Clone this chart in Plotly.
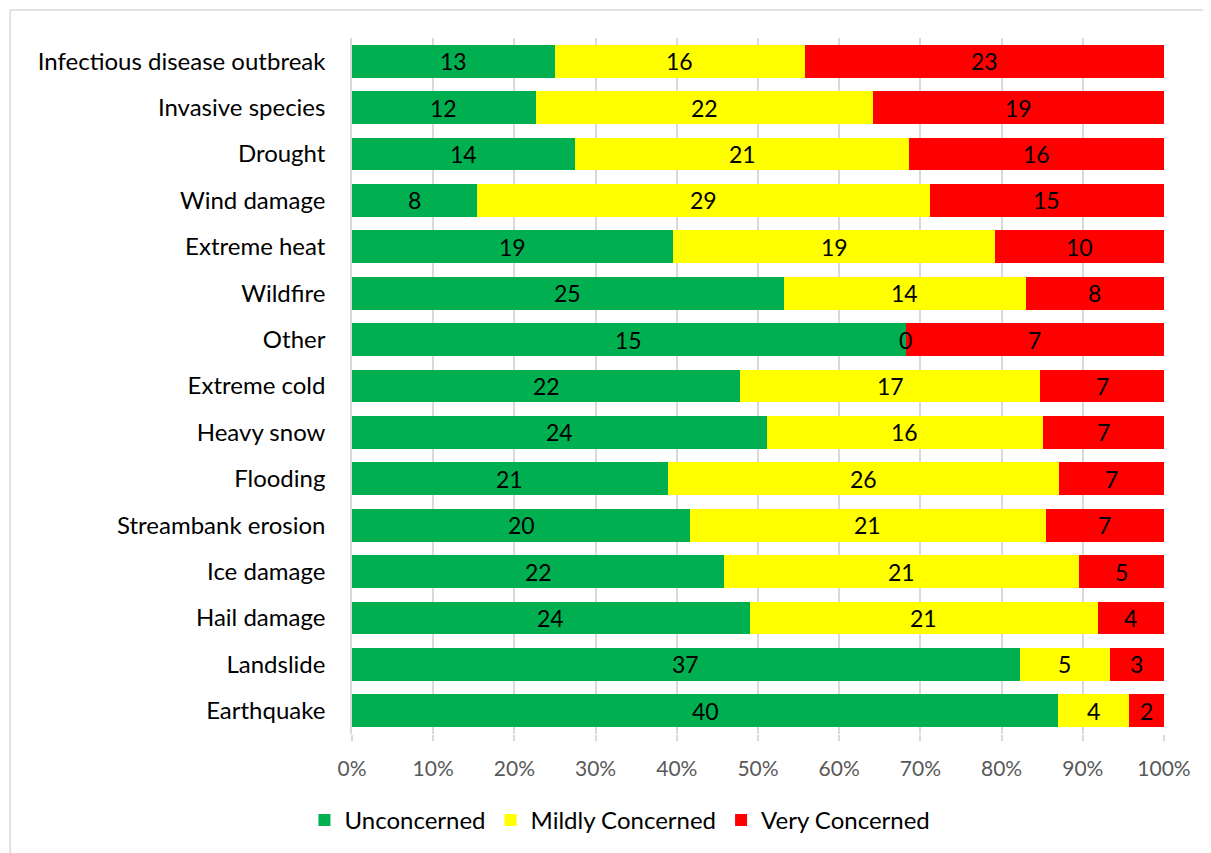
import numpy as np
import plotly.graph_objects as go

categories = ["Infectious disease outbreak", "Invasive species", "Drought", "Wind damage",
              "Extreme heat", "Wildfire", "Other", "Extreme cold", "Heavy snow", "Flooding",
              "Streambank erosion", "Ice damage", "Hail damage", "Landslide", "Earthquake"]
unconcerned = [13, 12, 14, 8, 19, 25, 15, 22, 24, 21, 20, 22, 24, 37, 40]
mildly = [16, 22, 21, 29, 19, 14, 0, 17, 16, 26, 21, 21, 21, 5, 4]
very = [23, 19, 16, 15, 10, 8, 7, 7, 7, 7, 7, 5, 4, 3, 2]
series_names = ["Unconcerned", "Mildly Concerned", "Very Concerned"]
colors = ["#00B050", "#FFFF00", "#FF0000"]
x_ticks = list(range(0, 101, 10))

FONT = "Lato"
data = np.array([unconcerned, mildly, very], dtype=float)
pct = data / data.sum(axis=0) * 100

fig = go.Figure()
for i, name in enumerate(series_names):
    fig.add_trace(go.Bar(y=categories, x=pct[i], name=name, orientation="h",
                         marker=dict(color=colors[i], line=dict(width=0))))

# labels
cum = np.cumsum(pct, axis=0)
annotations = []
for i in range(3):
    for j, cat in enumerate(categories):
        mid = cum[i, j] - pct[i, j] / 2
        annotations.append(dict(x=mid, y=cat, xref="x", yref="y", text=str(int(data[i, j])),
                                showarrow=False, font=dict(family=FONT, size=23, color="#000000")))

fig.update_layout(
    barmode="stack", bargap=0.29,
    width=1211, height=853,
    margin=dict(l=344, r=55, t=30, b=127),
    plot_bgcolor="white", paper_bgcolor="white",
    font=dict(family=FONT, size=24, color="#000000"),
    annotations=annotations,
    legend=dict(orientation="h", x=0.33, xanchor="center", y=-0.124, yanchor="middle",
                font=dict(family=FONT, size=24, color="#000000"), itemwidth=30,
                traceorder="normal"),
    shapes=[dict(type="rect", xref="paper", yref="paper", x0=-0.421, x1=1.0554,
                 y0=-0.19, y1=1.0402, line=dict(color="#D9D9D9", width=1.5), layer="below")],
)
fig.update_xaxes(range=[0, 100], tickvals=x_ticks, ticktext=[f"{t}%" for t in x_ticks],
                 showgrid=True, gridcolor="#D9D9D9", gridwidth=1.5, zeroline=False,
                 ticks="outside", ticklen=6, tickcolor="#D9D9D9", tickwidth=1.5,
                 ticklabelstandoff=10,
                 tickfont=dict(family=FONT, size=21, color="#595959"), showline=False)
fig.update_yaxes(autorange="reversed", showline=True, linecolor="#D9D9D9", linewidth=1.5,
                 ticks="", ticklabelstandoff=20, tickfont=dict(family=FONT, size=24, color="#000000"))

fig.write_html("out.html")
